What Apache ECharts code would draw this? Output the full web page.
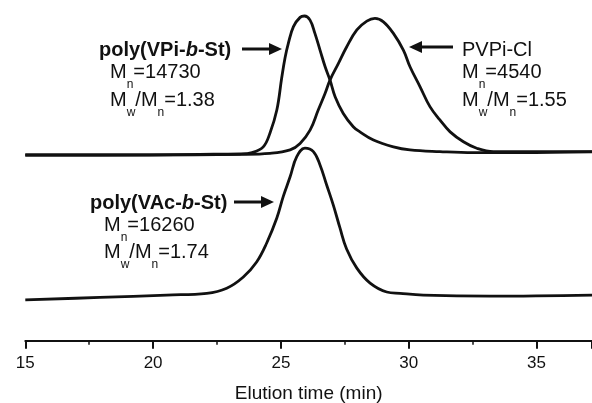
<!DOCTYPE html>
<html>
<head>
<meta charset="utf-8">
<script src="https://cdn.jsdelivr.net/npm/echarts@6/dist/echarts.min.js"></script>
<style>
  html, body { margin: 0; padding: 0; background: #fff; }
  #chart { width: 592px; height: 403px; }
</style>
</head>
<body>
<div id="chart"></div>
<script>
// elution time (min) and detector response (a.u., traces stacked with offset)
var vpiTime = [15.0, 17.92, 21.83, 23.40, 23.87, 24.31, 24.57, 24.84, 25.03, 25.16, 25.29, 25.49, 25.75, 25.92, 26.14, 26.33, 26.53, 26.73, 26.92, 27.12, 27.44, 27.83, 28.09, 28.62, 29.40, 30.05, 31.22, 32.52, 34.35, 37.17];
var vpiResp = [54.5, 54.5, 54.7, 54.8, 55.2, 56.9, 60.9, 67.7, 77.1, 83.0, 87.3, 92.2, 94.9, 95.3, 94.1, 90.2, 85.3, 80.4, 76.5, 71.6, 66.7, 62.8, 61.3, 58.9, 56.9, 56.0, 55.5, 55.2, 55.2, 55.4];

var pvpiTime = [15.0, 19.88, 23.40, 24.57, 25.36, 25.75, 26.14, 26.46, 26.73, 26.92, 27.25, 27.57, 27.97, 28.36, 28.68, 29.01, 29.40, 29.79, 30.05, 30.44, 30.83, 31.22, 31.62, 32.14, 32.66, 33.31, 37.17];
var pvpiResp = [54.5, 54.5, 54.7, 55.0, 56.0, 57.9, 61.8, 67.7, 72.6, 76.5, 81.4, 86.2, 91.2, 93.8, 94.6, 93.6, 90.2, 85.3, 80.4, 74.6, 68.7, 64.8, 61.3, 58.4, 56.5, 55.5, 55.5];

var vacTime = [15.0, 17.92, 20.53, 22.10, 22.88, 23.53, 24.05, 24.44, 24.84, 25.09, 25.36, 25.62, 25.94, 26.27, 26.53, 26.79, 27.05, 27.31, 27.57, 27.97, 28.49, 29.14, 29.66, 30.57, 33.18, 37.17];
var vacResp = [12.0, 12.7, 13.4, 13.9, 15.4, 18.7, 23.1, 28.6, 36.0, 42.3, 48.1, 54.0, 56.5, 55.5, 51.6, 45.7, 39.8, 33.1, 26.9, 21.3, 16.9, 14.3, 13.9, 13.4, 13.1, 13.4];

var xTicks = [15, 20, 25, 30, 35];

function zip(a, b) {
  return a.map(function (v, i) { return [v, b[i]]; });
}

var ink = '#111';
var font = '"Liberation Sans", Arial, sans-serif';
var rich = {
  b: { fontSize: 20, fontWeight: 'bold', fontFamily: font, color: ink },
  bi: { fontSize: 20, fontWeight: 'bold', fontStyle: 'italic', fontFamily: font, color: ink },
  m: { fontSize: 20, fontFamily: font, color: ink },
  s: { fontSize: 12, fontFamily: font, color: ink, padding: [26, 0, 0, 0] }
};

function label(x, y, text) {
  return {
    type: 'text', x: x, y: y, silent: true,
    style: { text: text, rich: rich, verticalAlign: 'middle', fill: ink }
  };
}

function arrow(x1, x2, y) {
  // head at x2
  var dir = x2 > x1 ? 1 : -1;
  var hx = x2 - dir * 13;
  return {
    type: 'group', silent: true,
    children: [
      { type: 'line', shape: { x1: x1, y1: y, x2: hx + dir * 2, y2: y }, style: { stroke: ink, lineWidth: 3 } },
      { type: 'polygon', shape: { points: [[hx, y - 6], [x2, y], [hx, y + 6]] }, style: { fill: ink } }
    ]
  };
}

var myChart = echarts.init(document.getElementById('chart'));

var option = {
  animation: false,
  backgroundColor: '#fff',
  grid: { left: 25.3, right: 0, top: 0, bottom: 62.3, outerBoundsMode: 'none' },
  xAxis: {
    type: 'value',
    min: 15,
    max: 37.17,
    interval: 5,
    name: 'Elution time (min)',
    nameLocation: 'middle',
    nameGap: 44,
    nameTextStyle: { fontSize: 19, color: ink, fontFamily: font },
    axisLine: { lineStyle: { color: ink, width: 2 } },
    axisTick: { length: 8, lineStyle: { color: ink, width: 2 } },
    minorTick: { show: true, splitNumber: 2, length: 4, lineStyle: { color: ink, width: 1.5 } },
    splitLine: { show: false },
    axisLabel: {
      fontSize: 17, color: ink, fontFamily: font, margin: 14,
      showMaxLabel: false,
      formatter: function (v) { return xTicks.indexOf(v) >= 0 ? String(v) : ''; }
    }
  },
  yAxis: { type: 'value', min: 0, max: 100, show: false },
  series: [
    { name: 'poly(VPi-b-St)', data: zip(vpiTime, vpiResp) },
    { name: 'PVPi-Cl', data: zip(pvpiTime, pvpiResp) },
    { name: 'poly(VAc-b-St)', data: zip(vacTime, vacResp) }
  ].map(function (s) {
    return Object.assign({
      type: 'line', showSymbol: false, smooth: 0.4,
      lineStyle: { color: ink, width: 2.8 }
    }, s);
  }),
  graphic: [
    label(99, 50, '{b|poly(VPi-}{bi|b}{b|-St)}'),
    label(110, 72, '{m|M}{s|n}{m|=14730}'),
    label(110, 100, '{m|M}{s|w}{m|/M}{s|n}{m|=1.38}'),
    arrow(242, 282, 49),

    label(462, 50, '{m|PVPi-Cl}'),
    label(462, 72, '{m|M}{s|n}{m|=4540}'),
    label(462, 100, '{m|M}{s|w}{m|/M}{s|n}{m|=1.55}'),
    arrow(453, 409, 47),

    label(90, 203, '{b|poly(VAc-}{bi|b}{b|-St)}'),
    label(104, 225, '{m|M}{s|n}{m|=16260}'),
    label(104, 252, '{m|M}{s|w}{m|/M}{s|n}{m|=1.74}'),
    arrow(234, 274, 202)
  ]
};

myChart.setOption(option);
</script>
</body>
</html>
